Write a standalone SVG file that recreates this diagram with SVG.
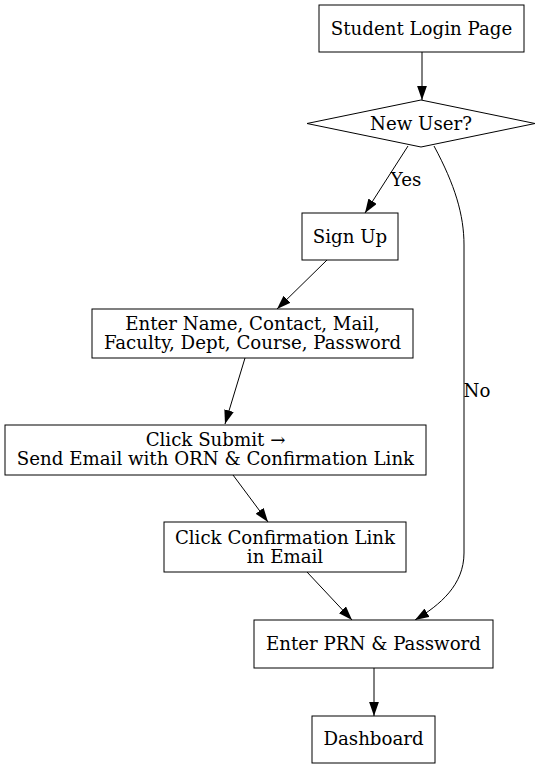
<svg xmlns="http://www.w3.org/2000/svg" width="541" height="768" viewBox="0 0 541 768">
<style>
.n{fill:#fff;stroke:#000;stroke-width:1}
.t{font-family:"DejaVu Serif","Liberation Serif",serif;font-size:18.2px;fill:#000;text-anchor:middle}
.e{fill:none;stroke:#000;stroke-width:1}
</style>
<defs>
<marker id="ah" markerUnits="userSpaceOnUse" markerWidth="14" markerHeight="10" refX="10" refY="3.5" orient="auto" viewBox="0 0 10 7">
<polygon points="0,0 10,3.5 0,7" fill="#000" stroke="none"/>
</marker>
</defs>
<rect width="541" height="768" fill="#fff"/>
<g id="edges">
<path class="e" d="M422,52 L422,100" marker-end="url(#ah)"/>
<path class="e" d="M408,146 L365,213" marker-end="url(#ah)"/>
<path class="e" d="M434,146 C455,185 464,215 464,245 L464,553 C464,585 440,605 415,620" marker-end="url(#ah)"/>
<path class="e" d="M327,260 L277,309" marker-end="url(#ah)"/>
<path class="e" d="M245,358 L225,424" marker-end="url(#ah)"/>
<path class="e" d="M233,475 L268,522" marker-end="url(#ah)"/>
<path class="e" d="M307,572 L352,620" marker-end="url(#ah)"/>
<path class="e" d="M374,668 L374,716" marker-end="url(#ah)"/>
<text class="t" x="406" y="186">Yes</text>
<text class="t" x="477" y="397">No</text>
</g>
<g id="login"><rect class="n" x="319" y="5" width="205" height="47"/><text class="t" x="421.5" y="35">Student Login Page</text></g>
<g id="newuser"><polygon class="n" points="421,100 535,123.5 421,147 307,123.5"/><text class="t" x="421" y="130">New User?</text></g>
<g id="signup"><rect class="n" x="302" y="213" width="96" height="47"/><text class="t" x="350" y="243">Sign Up</text></g>
<g id="enter"><rect class="n" x="92" y="309" width="321" height="49"/><text class="t" x="252.5" y="330">Enter Name, Contact, Mail,</text><text class="t" x="252.5" y="349">Faculty, Dept, Course, Password</text></g>
<g id="submit"><rect class="n" x="5" y="425" width="421" height="50"/><text class="t" x="215.5" y="446">Click Submit →</text><text class="t" x="215.5" y="465">Send Email with ORN &amp; Confirmation Link</text></g>
<g id="confirm"><rect class="n" x="164" y="522" width="242" height="50"/><text class="t" x="285" y="544">Click Confirmation Link</text><text class="t" x="285" y="563">in Email</text></g>
<g id="prn"><rect class="n" x="254" y="620" width="239" height="48"/><text class="t" x="373.5" y="650">Enter PRN &amp; Password</text></g>
<g id="dash"><rect class="n" x="312" y="716" width="123" height="47"/><text class="t" x="373.5" y="745">Dashboard</text></g>
</svg>
